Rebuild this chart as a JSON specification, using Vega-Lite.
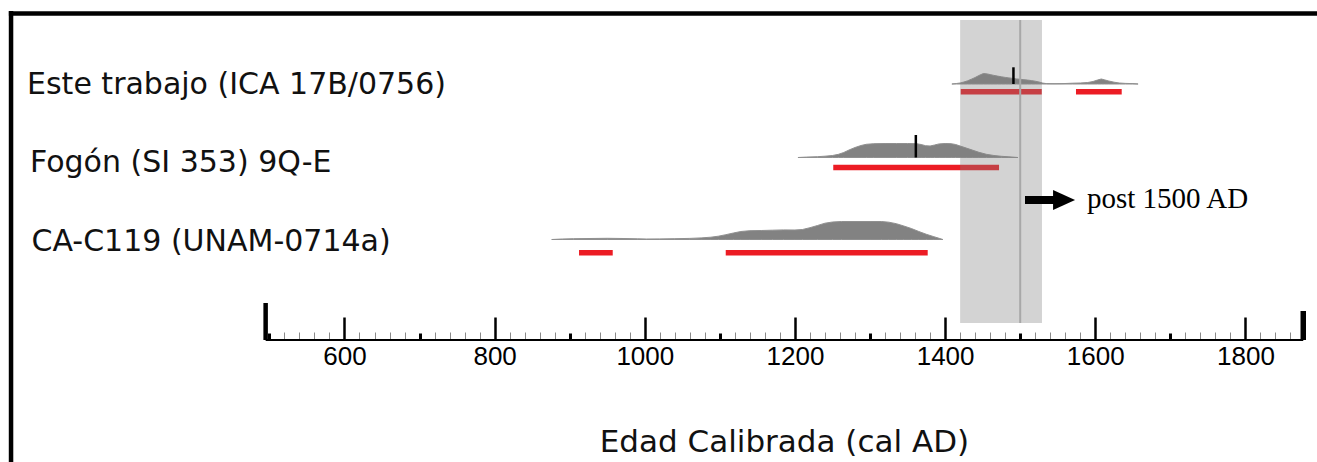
{
  "$schema": "https://vega.github.io/schema/vega-lite/v6.json",
  "padding": 0,
  "spacing": 0,
  "bounds": "flush",
  "background": "white",
  "config": {"view": {"stroke": null}, "concat": {"spacing": 0}},
  "datasets": {
    "est": [
      {"year": 1409, "p": 0}, {"year": 1415, "p": 0.5}, {"year": 1420, "p": 1}, {"year": 1425, "p": 2}, {"year": 1430, "p": 3.2},
      {"year": 1435, "p": 4.8}, {"year": 1440, "p": 6.5}, {"year": 1445, "p": 8.5}, {"year": 1451, "p": 10.5}, {"year": 1456, "p": 10.1},
      {"year": 1460, "p": 9.4}, {"year": 1465, "p": 8.6}, {"year": 1470, "p": 7.9}, {"year": 1475, "p": 7.2}, {"year": 1480, "p": 6.6},
      {"year": 1485, "p": 6.1}, {"year": 1490, "p": 5.6}, {"year": 1495, "p": 5.1}, {"year": 1500, "p": 4.7}, {"year": 1505, "p": 4.3},
      {"year": 1510, "p": 3.9}, {"year": 1515, "p": 3.4}, {"year": 1520, "p": 2.8}, {"year": 1525, "p": 2}, {"year": 1530, "p": 0.9},
      {"year": 1535, "p": 0.4}, {"year": 1545, "p": 0.3}, {"year": 1557, "p": 0.4}, {"year": 1570, "p": 0.8}, {"year": 1580, "p": 1},
      {"year": 1590, "p": 1.5}, {"year": 1597, "p": 2.5}, {"year": 1603, "p": 4}, {"year": 1608, "p": 5}, {"year": 1612, "p": 4.2},
      {"year": 1618, "p": 3}, {"year": 1625, "p": 1.8}, {"year": 1632, "p": 1}, {"year": 1640, "p": 0.6}, {"year": 1650, "p": 0.4},
      {"year": 1657, "p": 0}
    ],
    "fog": [
      {"year": 1204, "p": 0}, {"year": 1215, "p": 0.4}, {"year": 1230, "p": 0.8}, {"year": 1240, "p": 1.3}, {"year": 1250, "p": 2},
      {"year": 1258, "p": 3.2}, {"year": 1265, "p": 5}, {"year": 1272, "p": 7.5}, {"year": 1280, "p": 10}, {"year": 1288, "p": 12},
      {"year": 1295, "p": 13.2}, {"year": 1305, "p": 13.8}, {"year": 1320, "p": 14}, {"year": 1335, "p": 14}, {"year": 1350, "p": 14},
      {"year": 1362, "p": 13.8}, {"year": 1368, "p": 13}, {"year": 1374, "p": 11.8}, {"year": 1380, "p": 11.5}, {"year": 1386, "p": 12.5},
      {"year": 1392, "p": 13.6}, {"year": 1400, "p": 14}, {"year": 1408, "p": 13.8}, {"year": 1414, "p": 13}, {"year": 1420, "p": 11.5},
      {"year": 1428, "p": 9.5}, {"year": 1436, "p": 7.5}, {"year": 1445, "p": 5.2}, {"year": 1455, "p": 3.2}, {"year": 1465, "p": 2},
      {"year": 1475, "p": 1.2}, {"year": 1485, "p": 0.7}, {"year": 1497, "p": 0}
    ],
    "ca": [
      {"year": 876, "p": 0}, {"year": 890, "p": 0.5}, {"year": 905, "p": 0.8}, {"year": 927, "p": 1}, {"year": 950, "p": 1.2},
      {"year": 971, "p": 1}, {"year": 990, "p": 0.7}, {"year": 1002, "p": 0.5}, {"year": 1020, "p": 0.6}, {"year": 1040, "p": 0.8},
      {"year": 1060, "p": 1.1}, {"year": 1075, "p": 1.6}, {"year": 1088, "p": 2.3}, {"year": 1098, "p": 3.3}, {"year": 1108, "p": 4.8},
      {"year": 1118, "p": 6.5}, {"year": 1128, "p": 8}, {"year": 1140, "p": 8.8}, {"year": 1155, "p": 9}, {"year": 1170, "p": 9.3},
      {"year": 1185, "p": 9.6}, {"year": 1200, "p": 9.5}, {"year": 1210, "p": 10}, {"year": 1220, "p": 11.8}, {"year": 1230, "p": 14},
      {"year": 1240, "p": 16.3}, {"year": 1250, "p": 17.5}, {"year": 1262, "p": 18}, {"year": 1280, "p": 18}, {"year": 1300, "p": 18},
      {"year": 1315, "p": 18}, {"year": 1325, "p": 17.3}, {"year": 1335, "p": 15.8}, {"year": 1345, "p": 13.5}, {"year": 1355, "p": 11},
      {"year": 1365, "p": 8}, {"year": 1375, "p": 5.2}, {"year": 1385, "p": 2.8}, {"year": 1392, "p": 1.2}, {"year": 1397, "p": 0}
    ],
    "ranges": [
      {"sample": "est", "from": 1420.8, "to": 1528.7},
      {"sample": "est", "from": 1574.3, "to": 1635.2},
      {"sample": "fog", "from": 1251, "to": 1471.8},
      {"sample": "ca", "from": 912.4, "to": 957.3},
      {"sample": "ca", "from": 1107.8, "to": 1376.8}
    ],
    "medians": [{"sample": "est", "year": 1491}, {"sample": "fog", "year": 1361}],
    "labels": [
      {"sample": "est", "label": "Este trabajo (ICA 17B/0756)"},
      {"sample": "fog", "label": "Fogón (SI 353) 9Q-E"},
      {"sample": "ca", "label": "CA-C119 (UNAM-0714a)"}
    ],
    "band": [{"start": 1420, "end": 1529, "line": 1500}]
  },
  "resolve": {"scale": {"x": "independent", "y": "independent"}},
  "vconcat": [
    {
      "width": 1317, "height": 120,
      "layer": [
        {"data": {"name": "labels"}, "transform": [{"filter": "datum.sample === 'est'"}],
         "mark": {"type": "text", "align": "left", "baseline": "alphabetic", "font": "DejaVu Sans", "fontSize": 30, "color": "#111111"},
         "encoding": {"x": {"datum": 177.2, "type": "quantitative", "scale": {"domain": [141.2, 1895.3], "nice": false, "zero": false}, "axis": null},
                      "y": {"datum": -10, "type": "quantitative", "scale": {"domain": [-36, 84], "nice": false, "zero": false}, "axis": null},
                      "text": {"field": "label"}}},
        {"data": {"values": [{}]}, "mark": {"type": "rule", "strokeWidth": 4.5, "color": "black"},
         "encoding": {"x": {"datum": 153, "type": "quantitative", "scale": {"domain": [141.2, 1895.3], "nice": false, "zero": false}, "axis": null},
                      "x2": {"datum": 1895.3}, "y": {"datum": 70.6, "type": "quantitative", "axis": null}}},
        {"data": {"values": [{}]}, "mark": {"type": "rule", "strokeWidth": 4.5, "color": "black"},
         "encoding": {"x": {"datum": 155.9, "type": "quantitative", "axis": null},
                      "y": {"datum": 73, "type": "quantitative", "axis": null}, "y2": {"datum": -36}}},
        {"data": {"name": "est"}, "mark": {"type": "area", "color": "#828282", "stroke": "#909090", "strokeWidth": 1},
         "encoding": {"x": {"field": "year", "type": "quantitative", "axis": null},
                      "y": {"field": "p", "type": "quantitative", "axis": null}, "y2": {"datum": 0}}},
        {"data": {"name": "ranges"}, "transform": [{"filter": "datum.sample === 'est'"}],
         "mark": {"type": "rule", "color": "#ec1c24", "strokeWidth": 5.5},
         "encoding": {"x": {"field": "from", "type": "quantitative", "axis": null}, "x2": {"field": "to"},
                      "y": {"datum": -7.7, "type": "quantitative", "axis": null}}},
        {"data": {"name": "band"}, "mark": {"type": "rect", "color": "#808080", "opacity": 0.35},
         "encoding": {"x": {"field": "start", "type": "quantitative", "axis": null}, "x2": {"field": "end"},
                      "y": {"datum": 64, "type": "quantitative", "axis": null}, "y2": {"datum": -36}}},
        {"data": {"name": "medians"}, "transform": [{"filter": "datum.sample === 'est'"}],
         "mark": {"type": "rule", "color": "black", "strokeWidth": 2.5},
         "encoding": {"x": {"field": "year", "type": "quantitative", "axis": null},
                      "y": {"datum": 0, "type": "quantitative", "axis": null}, "y2": {"datum": 16.7}}},
        {"data": {"name": "band"}, "mark": {"type": "rule", "color": "#a8a8a8", "strokeWidth": 2},
         "encoding": {"x": {"field": "line", "type": "quantitative", "axis": null},
                      "y": {"datum": 64, "type": "quantitative", "axis": null}, "y2": {"datum": -36}}}
      ]
    },
    {
      "width": 1317, "height": 95,
      "layer": [
        {"data": {"name": "labels"}, "transform": [{"filter": "datum.sample === 'fog'"}],
         "mark": {"type": "text", "align": "left", "baseline": "alphabetic", "font": "DejaVu Sans", "fontSize": 30, "color": "#111111"},
         "encoding": {"x": {"datum": 181.2, "type": "quantitative", "scale": {"domain": [141.2, 1895.3], "nice": false, "zero": false}, "axis": null},
                      "y": {"datum": -14.5, "type": "quantitative", "scale": {"domain": [-57.5, 37.5], "nice": false, "zero": false}, "axis": null},
                      "text": {"field": "label"}}},
        {"data": {"values": [{}]}, "mark": {"type": "rule", "strokeWidth": 4.5, "color": "black"},
         "encoding": {"x": {"datum": 155.9, "type": "quantitative", "axis": null}}},
        {"data": {"name": "fog"}, "mark": {"type": "area", "color": "#828282", "stroke": "#909090", "strokeWidth": 1},
         "encoding": {"x": {"field": "year", "type": "quantitative", "axis": null},
                      "y": {"field": "p", "type": "quantitative", "axis": null}, "y2": {"datum": 0}}},
        {"data": {"name": "ranges"}, "transform": [{"filter": "datum.sample === 'fog'"}],
         "mark": {"type": "rule", "color": "#ec1c24", "strokeWidth": 5.5},
         "encoding": {"x": {"field": "from", "type": "quantitative", "axis": null}, "x2": {"field": "to"},
                      "y": {"datum": -10, "type": "quantitative", "axis": null}}},
        {"data": {"name": "band"}, "mark": {"type": "rect", "color": "#808080", "opacity": 0.35},
         "encoding": {"x": {"field": "start", "type": "quantitative", "axis": null}, "x2": {"field": "end"},
                      "y": {"datum": 37.5, "type": "quantitative", "axis": null}, "y2": {"datum": -57.5}}},
        {"data": {"name": "medians"}, "transform": [{"filter": "datum.sample === 'fog'"}],
         "mark": {"type": "rule", "color": "black", "strokeWidth": 2.5},
         "encoding": {"x": {"field": "year", "type": "quantitative", "axis": null},
                      "y": {"datum": 0, "type": "quantitative", "axis": null}, "y2": {"datum": 22.5}}},
        {"data": {"name": "band"}, "mark": {"type": "rule", "color": "#a8a8a8", "strokeWidth": 2},
         "encoding": {"x": {"field": "line", "type": "quantitative", "axis": null},
                      "y": {"datum": 37.5, "type": "quantitative", "axis": null}, "y2": {"datum": -57.5}}},
        {"data": {"values": [{"note": "post 1500 AD"}]}, "mark": {"type": "rule", "color": "black", "strokeWidth": 8},
         "encoding": {"x": {"datum": 1506.4, "type": "quantitative", "axis": null}, "x2": {"datum": 1546.4},
                      "y": {"datum": -42.5, "type": "quantitative", "axis": null}}},
        {"data": {"values": [{"note": "post 1500 AD"}]}, "mark": {"type": "point", "shape": "M-1,-0.9L1,0L-1,0.9Z", "size": 484, "filled": true, "color": "black", "opacity": 1, "strokeWidth": 0},
         "encoding": {"x": {"datum": 1558.4, "type": "quantitative", "axis": null},
                      "y": {"datum": -42.5, "type": "quantitative", "axis": null}}},
        {"data": {"values": [{"note": "post 1500 AD"}]}, "mark": {"type": "text", "align": "left", "baseline": "alphabetic", "font": "Liberation Serif", "fontSize": 29, "color": "black"},
         "encoding": {"x": {"datum": 1589, "type": "quantitative", "axis": null},
                      "y": {"datum": -50.5, "type": "quantitative", "axis": null}, "text": {"field": "note"}}}
      ]
    },
    {
      "width": 1317, "height": 75,
      "layer": [
        {"data": {"name": "labels"}, "transform": [{"filter": "datum.sample === 'ca'"}],
         "mark": {"type": "text", "align": "left", "baseline": "alphabetic", "font": "DejaVu Sans", "fontSize": 30, "color": "#111111"},
         "encoding": {"x": {"datum": 183.2, "type": "quantitative", "scale": {"domain": [141.2, 1895.3], "nice": false, "zero": false}, "axis": null},
                      "y": {"datum": -11.5, "type": "quantitative", "scale": {"domain": [-50.5, 24.5], "nice": false, "zero": false}, "axis": null},
                      "text": {"field": "label"}}},
        {"data": {"values": [{}]}, "mark": {"type": "rule", "strokeWidth": 4.5, "color": "black"},
         "encoding": {"x": {"datum": 155.9, "type": "quantitative", "axis": null}}},
        {"data": {"name": "ca"}, "mark": {"type": "area", "color": "#828282", "stroke": "#909090", "strokeWidth": 1},
         "encoding": {"x": {"field": "year", "type": "quantitative", "axis": null},
                      "y": {"field": "p", "type": "quantitative", "axis": null}, "y2": {"datum": 0}}},
        {"data": {"name": "ranges"}, "transform": [{"filter": "datum.sample === 'ca'"}],
         "mark": {"type": "rule", "color": "#ec1c24", "strokeWidth": 5.5},
         "encoding": {"x": {"field": "from", "type": "quantitative", "axis": null}, "x2": {"field": "to"},
                      "y": {"datum": -13.2, "type": "quantitative", "axis": null}}},
        {"data": {"name": "band"}, "mark": {"type": "rect", "color": "#808080", "opacity": 0.35},
         "encoding": {"x": {"field": "start", "type": "quantitative", "axis": null}, "x2": {"field": "end"},
                      "y": {"datum": 24.5, "type": "quantitative", "axis": null}, "y2": {"datum": -50.5}}},
        {"data": {"name": "band"}, "mark": {"type": "rule", "color": "#a8a8a8", "strokeWidth": 2},
         "encoding": {"x": {"field": "line", "type": "quantitative", "axis": null},
                      "y": {"datum": 24.5, "type": "quantitative", "axis": null}, "y2": {"datum": -50.5}}}
      ]
    },
    {
      "width": 1317, "height": 172,
      "resolve": {"axis": {"x": "independent"}},
      "layer": [
        {"data": {"values": [{}]}, "mark": {"type": "rule", "strokeWidth": 4.5, "color": "black"},
         "encoding": {"x": {"datum": 155.9, "type": "quantitative", "scale": {"domain": [141.2, 1895.3], "nice": false, "zero": false}, "axis": null}}},
        {"data": {"name": "band"}, "mark": {"type": "rect", "color": "#808080", "opacity": 0.35},
         "encoding": {"x": {"field": "start", "type": "quantitative",
                            "axis": {"orient": "top", "offset": -50, "values": [520,540,560,580,620,640,660,680,720,740,760,780,820,840,860,880,920,940,960,980,1020,1040,1060,1080,1120,1140,1160,1180,1220,1240,1260,1280,1320,1340,1360,1380,1420,1440,1460,1480,1520,1540,1560,1580,1620,1640,1660,1680,1720,1740,1760,1780,1820,1840,1860],
                                     "tickSize": 8, "tickWidth": 1, "tickColor": "#8a8a8a", "labels": false, "domain": false, "grid": false, "title": null}},
                      "x2": {"field": "end"},
                      "y": {"datum": 17, "type": "quantitative", "scale": {"domain": [-122, 50], "nice": false, "zero": false}, "axis": null}, "y2": {"datum": 50}}},
        {"data": {"name": "band"}, "mark": {"type": "rule", "color": "#a8a8a8", "strokeWidth": 2},
         "encoding": {"x": {"field": "line", "type": "quantitative",
                            "axis": {"orient": "top", "offset": -50, "values": [500,700,900,1100,1300,1500,1700], "tickSize": 7, "tickWidth": 3, "tickColor": "black", "labels": false, "domain": false, "grid": false, "title": null}},
                      "y": {"datum": 17, "type": "quantitative", "axis": null}, "y2": {"datum": 50}}},
        {"data": {"values": [{"from": 495, "to": 1877}]}, "mark": {"type": "rule", "color": "black", "strokeWidth": 2},
         "encoding": {"x": {"field": "from", "type": "quantitative",
                            "axis": {"orient": "top", "offset": -50, "values": [600,800,1000,1200,1400,1600,1800], "tickSize": 23, "tickWidth": 2.5, "tickColor": "black", "labels": false, "domain": false, "grid": false, "title": null}},
                      "x2": {"field": "to"},
                      "y": {"datum": 0, "type": "quantitative", "axis": null}}},
        {"data": {"values": [{"year": 495}]}, "mark": {"type": "rule", "color": "black", "strokeWidth": 4.5},
         "encoding": {"x": {"field": "year", "type": "quantitative",
                            "axis": {"orient": "bottom", "offset": -122, "values": [600,800,1000,1200,1400,1600,1800], "format": "d", "ticks": false, "domain": false, "grid": false,
                                     "labelFont": "Liberation Sans", "labelFontSize": 26, "labelColor": "black", "labelPadding": 3, "labelFlush": false, "labelOverlap": false, "title": null}},
                      "y": {"datum": 0, "type": "quantitative", "axis": null}, "y2": {"datum": 37}}},
        {"data": {"values": [{"year": 1877}]}, "mark": {"type": "rule", "color": "black", "strokeWidth": 5.5},
         "encoding": {"x": {"field": "year", "type": "quantitative", "axis": null},
                      "y": {"datum": 0, "type": "quantitative", "axis": null}, "y2": {"datum": 29}}},
        {"data": {"values": [{"t": "Edad Calibrada (cal AD)"}]}, "mark": {"type": "text", "align": "center", "baseline": "alphabetic", "font": "DejaVu Sans", "fontSize": 31, "color": "#111111"},
         "encoding": {"x": {"datum": 1186, "type": "quantitative", "axis": null},
                      "y": {"datum": -112, "type": "quantitative", "axis": null}, "text": {"field": "t"}}}
      ]
    }
  ]
}
